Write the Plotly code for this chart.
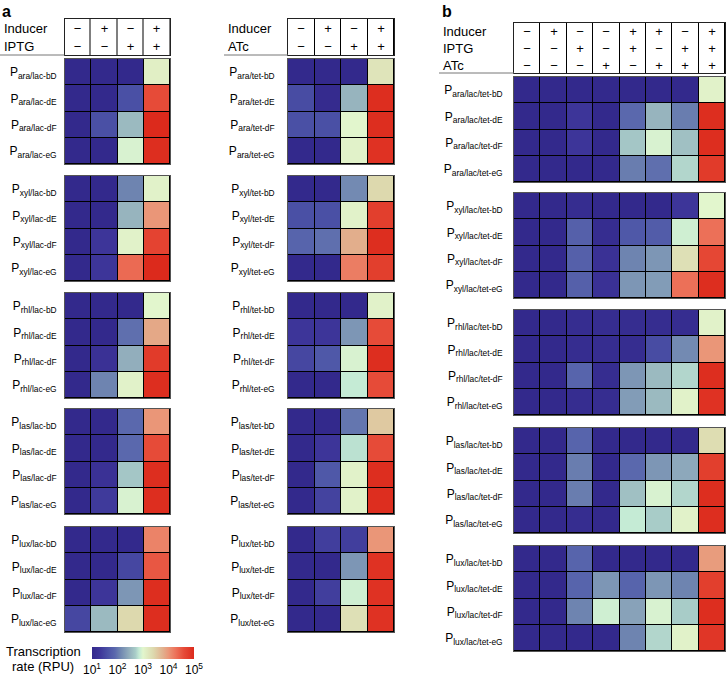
import plotly.graph_objects as go

# ---------------- data ----------------
variants = ["bD", "dE", "dF", "eG"]
promoters = ["ara", "xyl", "rhl", "las", "lux"]

lac_inducer = ["−", "+", "−", "+"]
lac_iptg = ["−", "−", "+", "+"]
tet_inducer = ["−", "+", "−", "+"]
tet_atc = ["−", "−", "+", "+"]
b_inducer = ["−", "+", "−", "−", "+", "+", "−", "+"]
b_iptg = ["−", "−", "+", "−", "+", "−", "+", "+"]
b_atc = ["−", "−", "−", "+", "−", "+", "+", "+"]

cbar_tickvals = [1, 2, 3, 4, 5]
cbar_ticktext = ["10<sup>1</sup>", "10<sup>2</sup>", "10<sup>3</sup>", "10<sup>4</sup>", "10<sup>5</sup>"]

# log10 transcription rate (RPU)
ara_lac = [[1.0, 1.0, 1.0, 3.1], [1.0, 1.0, 1.6, 4.6], [1.0, 1.6, 2.55, 5.0], [1.0, 1.0, 2.95, 4.95]]
xyl_lac = [[1.0, 1.0, 2.1, 3.05], [1.0, 1.0, 2.5, 4.0], [1.0, 1.3, 3.05, 4.7], [1.0, 1.3, 4.35, 5.0]]
rhl_lac = [[1.0, 1.0, 1.0, 3.0], [1.0, 1.0, 1.95, 3.85], [1.0, 1.2, 2.45, 4.8], [1.0, 2.1, 3.05, 4.95]]
las_lac = [[1.0, 1.0, 1.9, 4.0], [1.0, 1.0, 1.9, 4.6], [1.0, 1.2, 2.65, 4.95], [1.0, 1.35, 2.95, 4.95]]
lux_lac = [[1.0, 1.0, 1.0, 4.15], [1.0, 1.0, 1.5, 4.5], [1.0, 1.3, 2.25, 4.95], [1.5, 2.55, 3.4, 4.95]]

ara_tet = [[1.0, 1.0, 1.0, 3.25], [1.55, 1.05, 2.5, 4.95], [1.6, 1.6, 3.0, 4.95], [1.0, 1.0, 3.05, 4.9]]
xyl_tet = [[1.0, 1.0, 2.15, 3.4], [1.6, 1.6, 3.05, 4.75], [1.85, 1.95, 3.8, 4.95], [1.0, 1.0, 4.2, 4.75]]
rhl_tet = [[1.0, 1.0, 1.0, 3.05], [1.3, 1.3, 2.25, 4.6], [1.5, 1.7, 2.95, 4.95], [1.0, 1.0, 2.85, 4.6]]
las_tet = [[1.0, 1.0, 2.0, 3.55], [1.0, 1.3, 2.8, 4.6], [1.0, 1.7, 3.05, 4.95], [1.0, 1.45, 3.05, 4.95]]
lux_tet = [[1.0, 1.4, 1.4, 4.0], [1.0, 1.0, 2.25, 4.9], [1.0, 1.4, 2.9, 4.9], [1.0, 1.0, 3.3, 4.9]]

ara_lactet = [[1, 1, 1, 1, 1, 1, 1, 3.05],
              [1, 1, 1.3, 1, 1.9, 2.5, 2.05, 4.95],
              [1, 1, 1.3, 1, 2.65, 2.95, 2.6, 4.95],
              [1, 1, 1, 1, 2.05, 1.95, 2.75, 4.8]]
xyl_lactet = [[1, 1, 1.1, 1, 1, 1, 1.3, 3.0],
              [1, 1, 1.8, 1.1, 1.7, 1.75, 2.9, 4.3],
              [1, 1, 1.8, 1.2, 2.1, 2.25, 3.3, 4.65],
              [1, 1, 1.8, 1.2, 2.25, 2.3, 4.3, 4.95]]
rhl_lactet = [[1, 1, 1.1, 1.1, 1.1, 1.1, 1.1, 3.05],
              [1, 1, 1.1, 1.1, 1.1, 1.55, 2.15, 4.0],
              [1, 1, 1.85, 1.1, 2.25, 2.55, 2.75, 4.95],
              [1, 1, 1.1, 1.1, 2.3, 2.55, 3.05, 4.9]]
las_lactet = [[1, 1, 1.85, 1, 1, 1, 1, 3.35],
              [1, 1, 2.05, 1, 1.9, 2.25, 2.4, 4.75],
              [1, 1, 2.05, 1, 2.6, 2.95, 2.75, 4.95],
              [1, 1, 1.1, 1, 2.85, 2.7, 3.05, 4.95]]
lux_lactet = [[1, 1, 1.85, 1, 1, 1, 1, 3.95],
              [1, 1, 1.85, 2.25, 1.85, 2.25, 2.1, 4.75],
              [1, 1, 2.1, 2.9, 2.35, 2.95, 2.7, 4.95],
              [1, 1, 1, 1, 2.1, 2.75, 3.05, 4.85]]

lac_blocks = [ara_lac, xyl_lac, rhl_lac, las_lac, lux_lac]
tet_blocks = [ara_tet, xyl_tet, rhl_tet, las_tet, lux_tet]
lactet_blocks = [ara_lactet, xyl_lactet, rhl_lactet, las_lactet, lux_lactet]

colorscale = [
    [0.000, "rgb(51,41,140)"],
    [0.075, "rgb(61,53,153)"],
    [0.150, "rgb(74,80,165)"],
    [0.225, "rgb(90,104,173)"],
    [0.275, "rgb(110,132,176)"],
    [0.375, "rgb(151,180,190)"],
    [0.425, "rgb(168,204,200)"],
    [0.4625, "rgb(197,235,213)"],
    [0.500, "rgb(226,246,205)"],
    [0.600, "rgb(221,217,174)"],
    [0.700, "rgb(226,174,140)"],
    [0.750, "rgb(234,150,120)"],
    [0.825, "rgb(236,112,88)"],
    [0.900, "rgb(230,75,56)"],
    [1.000, "rgb(220,42,28)"],
]

# ---------------- layout geometry (pixels) ----------------
W, H = 726, 676
FONT = "Liberation Sans, Arial, sans-serif"


def px(x):
    return x / W


def py(y):
    return 1 - y / H


fig = go.Figure()
layout_axes = {}
axis_counter = [0]


def new_axes():
    axis_counter[0] += 1
    n = axis_counter[0]
    return n, ("x" if n == 1 else f"x{n}"), ("y" if n == 1 else f"y{n}")


def add_block(z, labels, x0, x1, y0, y1, ticklen):
    n, xa, ya = new_axes()
    ncol = len(z[0])
    fig.add_trace(go.Heatmap(
        z=z, x=list(range(ncol)), y=labels, coloraxis="coloraxis",
        xgap=1, ygap=1, xaxis=xa, yaxis=ya, hoverinfo="skip"))
    key = "" if n == 1 else str(n)
    layout_axes["xaxis" + key] = dict(
        domain=[px(x0), px(x1)], anchor=ya, range=[-0.5, ncol - 0.5],
        showticklabels=False, showgrid=False, zeroline=False, ticks="",
        showline=True, mirror=True, linecolor="#555", linewidth=1)
    layout_axes["yaxis" + key] = dict(
        domain=[py(y1), py(y0)], anchor=xa, autorange="reversed", type="category",
        showgrid=False, zeroline=False, ticks="outside", ticklen=ticklen,
        tickcolor="rgba(0,0,0,0)", showline=True, mirror=True,
        linecolor="#555", linewidth=1,
        tickfont=dict(family=FONT, size=12, color="black"))


def add_header(rows, x0, x1, y0, y1):
    n, xa, ya = new_axes()
    ncol = len(rows[0])
    fig.add_trace(go.Heatmap(
        z=[[0] * ncol for _ in rows], x=list(range(ncol)), y=list(range(len(rows))),
        text=rows, texttemplate="%{text}",
        textfont=dict(family=FONT, size=13, color="black"),
        colorscale=[[0, "white"], [1, "white"]], zmin=0, zmax=1, showscale=False,
        xgap=1, ygap=0, xaxis=xa, yaxis=ya, hoverinfo="skip"))
    key = "" if n == 1 else str(n)
    layout_axes["xaxis" + key] = dict(
        domain=[px(x0), px(x1)], anchor=ya, range=[-0.5, ncol - 0.5],
        showticklabels=False, showgrid=False, zeroline=False,
        showline=True, mirror=True, linecolor="#222", linewidth=1)
    layout_axes["yaxis" + key] = dict(
        domain=[py(y1), py(y0)], anchor=xa, range=[len(rows) - 0.5, -0.5],
        showticklabels=False, showgrid=False, zeroline=False,
        showline=True, mirror=True, linecolor="#222", linewidth=1)


annotations = []
shapes = []


def header_labels(names, xl, xr_line, y0, y1):
    nrow = len(names)
    h = (y1 - y0) / nrow
    for i, nm in enumerate(names):
        annotations.append(dict(
            x=px(xl), y=py(y0 + h * (i + 0.5) + 0.5), xref="paper", yref="paper",
            text=nm, showarrow=False, xanchor="left", yanchor="middle",
            font=dict(family=FONT, size=13, color="black")))
    shapes.append(dict(type="line", xref="paper", yref="paper",
                       x0=px(xl - 2), x1=px(xr_line), y0=py(y1), y1=py(y1),
                       line=dict(color="#777", width=1)))


a_tops = [59, 176, 293, 409, 527]
b_tops = [77, 193, 310, 428, 546]
BLOCK_H = 105

# panel a, left (lac)
add_header([lac_inducer, lac_iptg], 64.5, 170, 19, 55)
header_labels(["Inducer", "IPTG"], 2, 64.5, 19, 55)
for prom, z, t in zip(promoters, lac_blocks, a_tops):
    labels = [f"P<sub>{prom}/lac-{v}</sub>" for v in variants]
    add_block(z, labels, 65, 170, t, t + BLOCK_H, 5)

# panel a, middle (tet)
add_header([tet_inducer, tet_atc], 288, 394, 19, 55)
header_labels(["Inducer", "ATc"], 226, 288, 19, 55)
for prom, z, t in zip(promoters, tet_blocks, a_tops):
    labels = [f"P<sub>{prom}/tet-{v}</sub>" for v in variants]
    add_block(z, labels, 288, 394, t, t + BLOCK_H, 10)

# panel b (lac/tet)
add_header([b_inducer, b_iptg, b_atc], 514, 725, 23, 73)
header_labels(["Inducer", "IPTG", "ATc"], 441, 514, 23, 73)
for prom, z, t in zip(promoters, lactet_blocks, b_tops):
    labels = [f"P<sub>{prom}/lac/tet-{v}</sub>" for v in variants]
    add_block(z, labels, 514, 725, t, t + BLOCK_H, 8)

# panel letters
for letter, xx in [("a", 1), ("b", 441)]:
    annotations.append(dict(x=px(xx), y=py(11), xref="paper", yref="paper",
                            text=f"<b>{letter}</b>", showarrow=False,
                            xanchor="left", yanchor="middle", borderpad=0,
                            font=dict(family=FONT, size=16, color="black")))
# colorbar title
for txt, yy in [("Transcription", 651), ("rate (RPU)", 666)]:
    annotations.append(dict(x=px(43), y=py(yy), xref="paper", yref="paper",
                            text=txt, showarrow=False,
                            xanchor="center", yanchor="middle",
                            font=dict(family=FONT, size=13, color="black")))

fig.update_layout(
    width=W, height=H, margin=dict(l=0, r=0, t=0, b=0),
    paper_bgcolor="white", plot_bgcolor="black", showlegend=False,
    font=dict(family=FONT, size=12, color="black"),
    coloraxis=dict(
        colorscale=colorscale, cmin=1, cmax=5,
        colorbar=dict(orientation="h", x=px(143), xanchor="center",
                      y=py(647), yanchor="top", len=102, lenmode="pixels",
                      thickness=12, tickvals=cbar_tickvals, ticktext=cbar_ticktext,
                      ticks="", outlinewidth=0, xpad=0, ypad=0,
                      tickfont=dict(family=FONT, size=12, color="black"))),
    annotations=annotations, shapes=shapes,
    **layout_axes,
)

fig.write_html("out.html", config={"displayModeBar": False},
               post_script="document.body.style.margin='0';document.body.style.overflow='hidden';")
